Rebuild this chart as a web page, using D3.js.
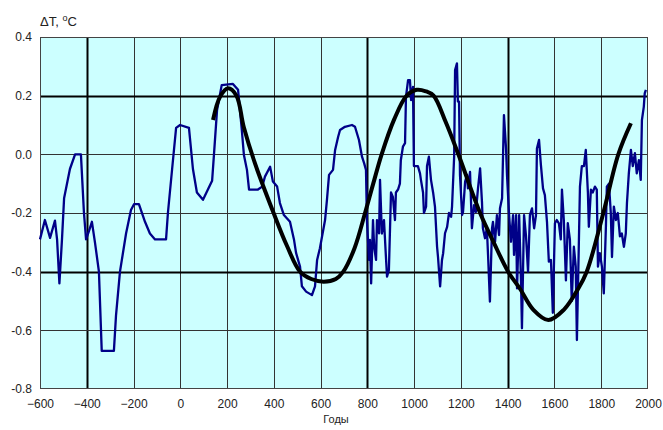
<!DOCTYPE html>
<html><head><meta charset="utf-8">
<script src="https://cdn.jsdelivr.net/npm/d3@7"></script>
<style>
html,body{margin:0;padding:0;background:#fff;}
svg{display:block;}
text{font-family:"Liberation Sans",Arial,sans-serif;fill:#222;}
</style></head>
<body>
<svg id="chart" width="663" height="430"></svg>
<script>
const years = [-600,-579,-557,-536,-527,-517,-506,-497,-472,-450,-425,-412,-403,-390,-378,-365,-348,-336,-284,-275,-258,-232,-211,-198,-177,-151,-130,-108,-61,-53,-35,-18,-1,37,54,71,97,118,136,144,157,177,225,247,263,272,285,294,332,350,362,384,396,414,426,443,469,486,495,512,520,538,563,576,585,597,619,627,636,653,662,675,683,704,734,747,764,777,786,794,798,807,811,816,824,829,837,841,850,854,862,871,880,884,892,901,909,918,922,931,939,943,952,961,965,974,982,987,995,999,1008,1016,1025,1029,1038,1042,1051,1055,1063,1072,1081,1089,1098,1102,1111,1119,1124,1132,1141,1149,1158,1162,1171,1175,1183,1187,1192,1196,1205,1209,1218,1226,1230,1239,1247,1256,1264,1273,1282,1290,1294,1303,1311,1316,1324,1333,1337,1346,1354,1363,1367,1376,1384,1393,1397,1406,1414,1423,1427,1436,1440,1449,1457,1461,1470,1478,1487,1495,1504,1513,1521,1525,1534,1542,1551,1559,1568,1576,1585,1593,1602,1610,1619,1627,1632,1640,1649,1657,1666,1674,1683,1691,1696,1704,1709,1717,1726,1734,1743,1747,1756,1764,1773,1781,1786,1794,1803,1811,1820,1824,1833,1841,1846,1854,1863,1871,1880,1888,1897,1905,1910,1918,1927,1935,1944,1952,1961,1969,1974,1982,1986,1991];
const temps = [-0.29,-0.224,-0.285,-0.226,-0.29,-0.44,-0.29,-0.15,-0.05,0.0,0.0,-0.2,-0.29,-0.26,-0.23,-0.3,-0.4,-0.67,-0.67,-0.55,-0.4,-0.27,-0.19,-0.17,-0.17,-0.23,-0.27,-0.29,-0.29,-0.2,-0.05,0.09,0.1,0.09,-0.05,-0.13,-0.155,-0.12,-0.09,0.0,0.15,0.236,0.24,0.22,0.083,-0.002,-0.053,-0.12,-0.12,-0.11,-0.076,-0.042,-0.093,-0.11,-0.166,-0.207,-0.23,-0.29,-0.336,-0.383,-0.45,-0.468,-0.48,-0.45,-0.36,-0.32,-0.224,-0.156,-0.07,-0.053,0.015,0.06,0.083,0.094,0.1,0.094,0.049,-0.008,-0.03,-0.053,-0.224,-0.36,-0.292,-0.44,-0.224,-0.315,-0.36,-0.224,-0.269,-0.087,-0.27,-0.224,-0.36,-0.417,-0.394,-0.13,-0.145,-0.224,-0.13,-0.12,-0.1,-0.02,0.026,0.038,0.196,0.253,0.253,0.185,0.23,-0.04,-0.04,-0.04,-0.065,-0.087,-0.13,-0.2,-0.178,-0.04,-0.008,-0.087,-0.13,-0.178,-0.315,-0.35,-0.45,-0.36,-0.337,-0.269,-0.247,-0.2,-0.213,-0.178,-0.008,0.287,0.31,0.18,0.18,-0.07,-0.207,-0.196,-0.093,-0.07,-0.116,-0.06,-0.252,-0.173,-0.196,-0.116,-0.048,-0.162,-0.252,-0.286,-0.252,-0.343,-0.502,-0.252,-0.23,-0.298,-0.207,-0.275,-0.184,-0.15,0.134,0.02,-0.07,-0.207,-0.298,-0.207,-0.343,-0.207,-0.457,-0.207,-0.434,-0.593,-0.207,-0.275,-0.4,-0.207,-0.184,-0.252,-0.207,0.02,0.049,-0.036,-0.116,-0.139,-0.23,-0.366,-0.36,-0.54,-0.235,-0.224,-0.235,-0.29,-0.12,-0.224,-0.43,-0.235,-0.29,-0.5,-0.315,-0.383,-0.633,-0.315,-0.11,-0.04,-0.04,0.015,-0.13,-0.247,-0.12,-0.13,-0.11,-0.12,-0.383,-0.337,-0.383,-0.474,-0.247,-0.11,-0.1,-0.2,-0.35,-0.178,-0.224,-0.2,-0.28,-0.27,-0.315,-0.27,-0.166,-0.065,0.015,-0.04,0.004,-0.065,-0.02,-0.087,0.117,0.162,0.208,0.22];
const fitYears = [140,170,204,240,271,319,399,455,512,560,613,665,697,745,790,825,861,915,968,1011,1050,1083,1135,1189,1282,1340,1402,1454,1510,1574,1640,1700,1738,1809,1873,1927];
const fitTemps = [0.117,0.196,0.225,0.2,0.094,-0.03,-0.2,-0.31,-0.4,-0.425,-0.434,-0.425,-0.4,-0.32,-0.2,-0.1,0.0,0.12,0.2,0.22,0.215,0.2,0.11,0.0,-0.2,-0.3,-0.4,-0.46,-0.53,-0.565,-0.53,-0.46,-0.4,-0.2,0.0,0.106];
const xTicks = [-600,-400,-200,0,200,400,600,800,1000,1200,1400,1600,1800,2000];
const yTicks = [-0.8,-0.6,-0.4,-0.2,0.0,0.2,0.4];
const thickX = [-400,800,1400];
const thickY = [0.2,-0.4];
const yTitle = "ΔT, ";
const xTitle = "Годы";

const svg = d3.select("#chart");
const L=40, R=648, T=37, B=389;
const x = d3.scaleLinear().domain([-600,2000]).range([L,R]);
const y = d3.scaleLinear().domain([-0.8,0.4]).range([B,T]);

svg.append("rect").attr("x",L).attr("y",T).attr("width",R-L).attr("height",B-T).attr("fill","#ccffff");

// grid
const g = svg.append("g");
g.selectAll("line.vx").data(xTicks.filter(d=>d>-600&&d<2000)).enter().append("line")
  .attr("x1",d=>Math.round(x(d))+0.5).attr("x2",d=>Math.round(x(d))+0.5).attr("y1",T).attr("y2",B)
  .attr("stroke",d=>thickX.includes(d)?"#000":"#333").attr("stroke-width",d=>thickX.includes(d)?2:1);
g.selectAll("line.hy").data(yTicks.filter(d=>d>-0.8&&d<0.4)).enter().append("line")
  .attr("y1",d=>Math.round(y(d))+0.5).attr("y2",d=>Math.round(y(d))+0.5).attr("x1",L).attr("x2",R)
  .attr("stroke",d=>thickY.includes(d)?"#000":"#333").attr("stroke-width",d=>thickY.includes(d)?2:1);
svg.append("rect").attr("x",L+0.5).attr("y",T+0.5).attr("width",R-L-1).attr("height",B-T-1)
  .attr("fill","none").attr("stroke","#444").attr("stroke-width",1);

// data series
const pts = years.map((d,i)=>[d,temps[i]]);
const line = d3.line().x(d=>x(d[0])).y(d=>y(d[1]));
svg.append("path").attr("d",line(pts)).attr("fill","none").attr("stroke","#000088")
  .attr("stroke-width",2.3).attr("stroke-linejoin","round");

const fitPts = fitYears.map((d,i)=>[d,fitTemps[i]]);
const fitLine = d3.line().x(d=>x(d[0])).y(d=>y(d[1])).curve(d3.curveCatmullRom.alpha(0.5));
svg.append("path").attr("d",fitLine(fitPts)).attr("fill","none").attr("stroke","#000")
  .attr("stroke-width",4).attr("stroke-linecap","butt");

// axes labels
const xAxis = d3.axisBottom(x).tickValues(xTicks).tickSize(0).tickFormat(d3.format("d"));
const ax = svg.append("g").attr("transform",`translate(0,${B})`).call(xAxis);
ax.select(".domain").remove();
ax.selectAll("text").attr("dy",null).attr("y",19).attr("font-size",12).attr("fill","#222")
  .attr("font-family","Liberation Sans, Arial, sans-serif");
const yAxis = d3.axisLeft(y).tickValues(yTicks).tickSize(0).tickFormat(d3.format(".1f"));
const ay = svg.append("g").attr("transform",`translate(${L},0)`).call(yAxis);
ay.select(".domain").remove();
ay.selectAll("text").attr("x",-8).attr("font-size",12).attr("fill","#222")
  .attr("font-family","Liberation Sans, Arial, sans-serif")
  .text(d=>d<0?("-"+d3.format(".1f")(-d)):d3.format(".1f")(d));

const tt = svg.append("text").attr("x",40).attr("y",26).attr("font-size",13);
tt.append("tspan").text(yTitle);
tt.append("tspan").attr("dy",-5).attr("font-size",9).text("o");
tt.append("tspan").attr("dy",5).text("C");

svg.append("text").attr("x",336).attr("y",423).attr("text-anchor","middle").attr("font-size",11).text(xTitle);
</script>
</body></html>
